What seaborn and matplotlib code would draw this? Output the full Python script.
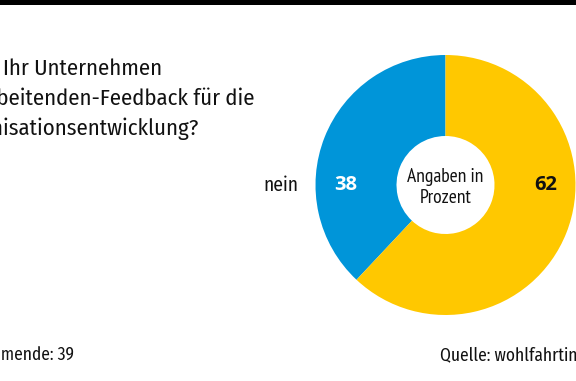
import matplotlib
matplotlib.use("Agg")
import matplotlib.pyplot as plt
import seaborn as sns

# ---- data ----
categories = ["nein", "ja"]
values = [38, 62]
colors = ["#0095d9", "#ffc800"]
value_colors = ["white", "#111111"]
title_lines = ["Nutzt Ihr Unternehmen", "Mitarbeitenden-Feedback für die", "Organisationsentwicklung?"]
title_prefixes = ["Nutzt ", "Mitar", "Orga"]
center_text = "Angaben in\nProzent"
footer_left = "Teilnehmende: 39"
footer_left_prefix = "Teilneh"
footer_right = "Quelle: wohlfahrtintern"

sns.set_theme(style="white")
COND = ["Fira Sans Condensed", "Roboto Condensed", "DejaVu Sans"]
NARROW = ["PT Sans Narrow", "DejaVu Sans"]
HUMAN = ["Open Sans", "DejaVu Sans"]
plt.rcParams["font.family"] = COND

W, H = 576, 381
fig = plt.figure(figsize=(W / 100, H / 100), dpi=100)
fig.patch.set_facecolor("white")

# top black bar
fig.add_artist(plt.Rectangle((0, 1 - 5 / H), 1, 5 / H, transform=fig.transFigure,
                             color="black", lw=0))

cx, cy, R = 445.5, 185, 130
ax = fig.add_axes([(cx - R) / W, (H - cy - R) / H, 2 * R / W, 2 * R / H])
ax.pie(values, colors=colors, startangle=90, counterclock=True, radius=1,
       wedgeprops=dict(width=1 - 49 / R, linewidth=0))
ax.set_xlim(-1, 1)
ax.set_ylim(-1, 1)
ax.set_aspect("equal")
ax.axis("off")

ax.text(0, -0.02, center_text, ha="center", va="center", fontsize=14,
        color="#111111", linespacing=1.2, family=NARROW)
xs = [-0.77, 0.77]
for x, v, c in zip(xs, values, value_colors):
    ax.text(x, 0.0, str(v), ha="center", va="center", fontsize=14.5,
            fontweight="bold", color=c, family=HUMAN)

renderer = fig.canvas.get_renderer()

def width_px(s, size, family=None):
    t = fig.text(0, 0, s, fontsize=size, family=family or COND)
    w = t.get_window_extent(renderer).width
    t.remove()
    return w

def fit(s, target, family=None):
    return 10 * target / width_px(s, 10, family)

nsize = fit("nein", 35)
for x, cat in zip([-1.27, 1.27], categories):
    ax.text(x, 0.0, cat, ha="center", va="center", fontsize=nsize, color="#111111")

tsize = fit("Ihr Unternehmen", 160)
x0 = 3 - width_px(title_prefixes[0], tsize)
for i, line in enumerate(title_lines):
    ypix = 69 + i * 30
    fig.text(x0 / W, 1 - ypix / H, line, fontsize=tsize, ha="left", va="center",
             color="#111111")

fsize = fit("Quelle: wohlfahrtin", 137)
fx = 1 - width_px(footer_left_prefix, fsize)
fig.text(fx / W, 1 - 355 / H, footer_left, fontsize=fsize, ha="left", va="center",
         color="#111111")
fig.text(440 / W, 1 - 355 / H, footer_right, fontsize=fsize, ha="left", va="center",
         color="#111111")

fig.savefig("out.png", dpi=100)
